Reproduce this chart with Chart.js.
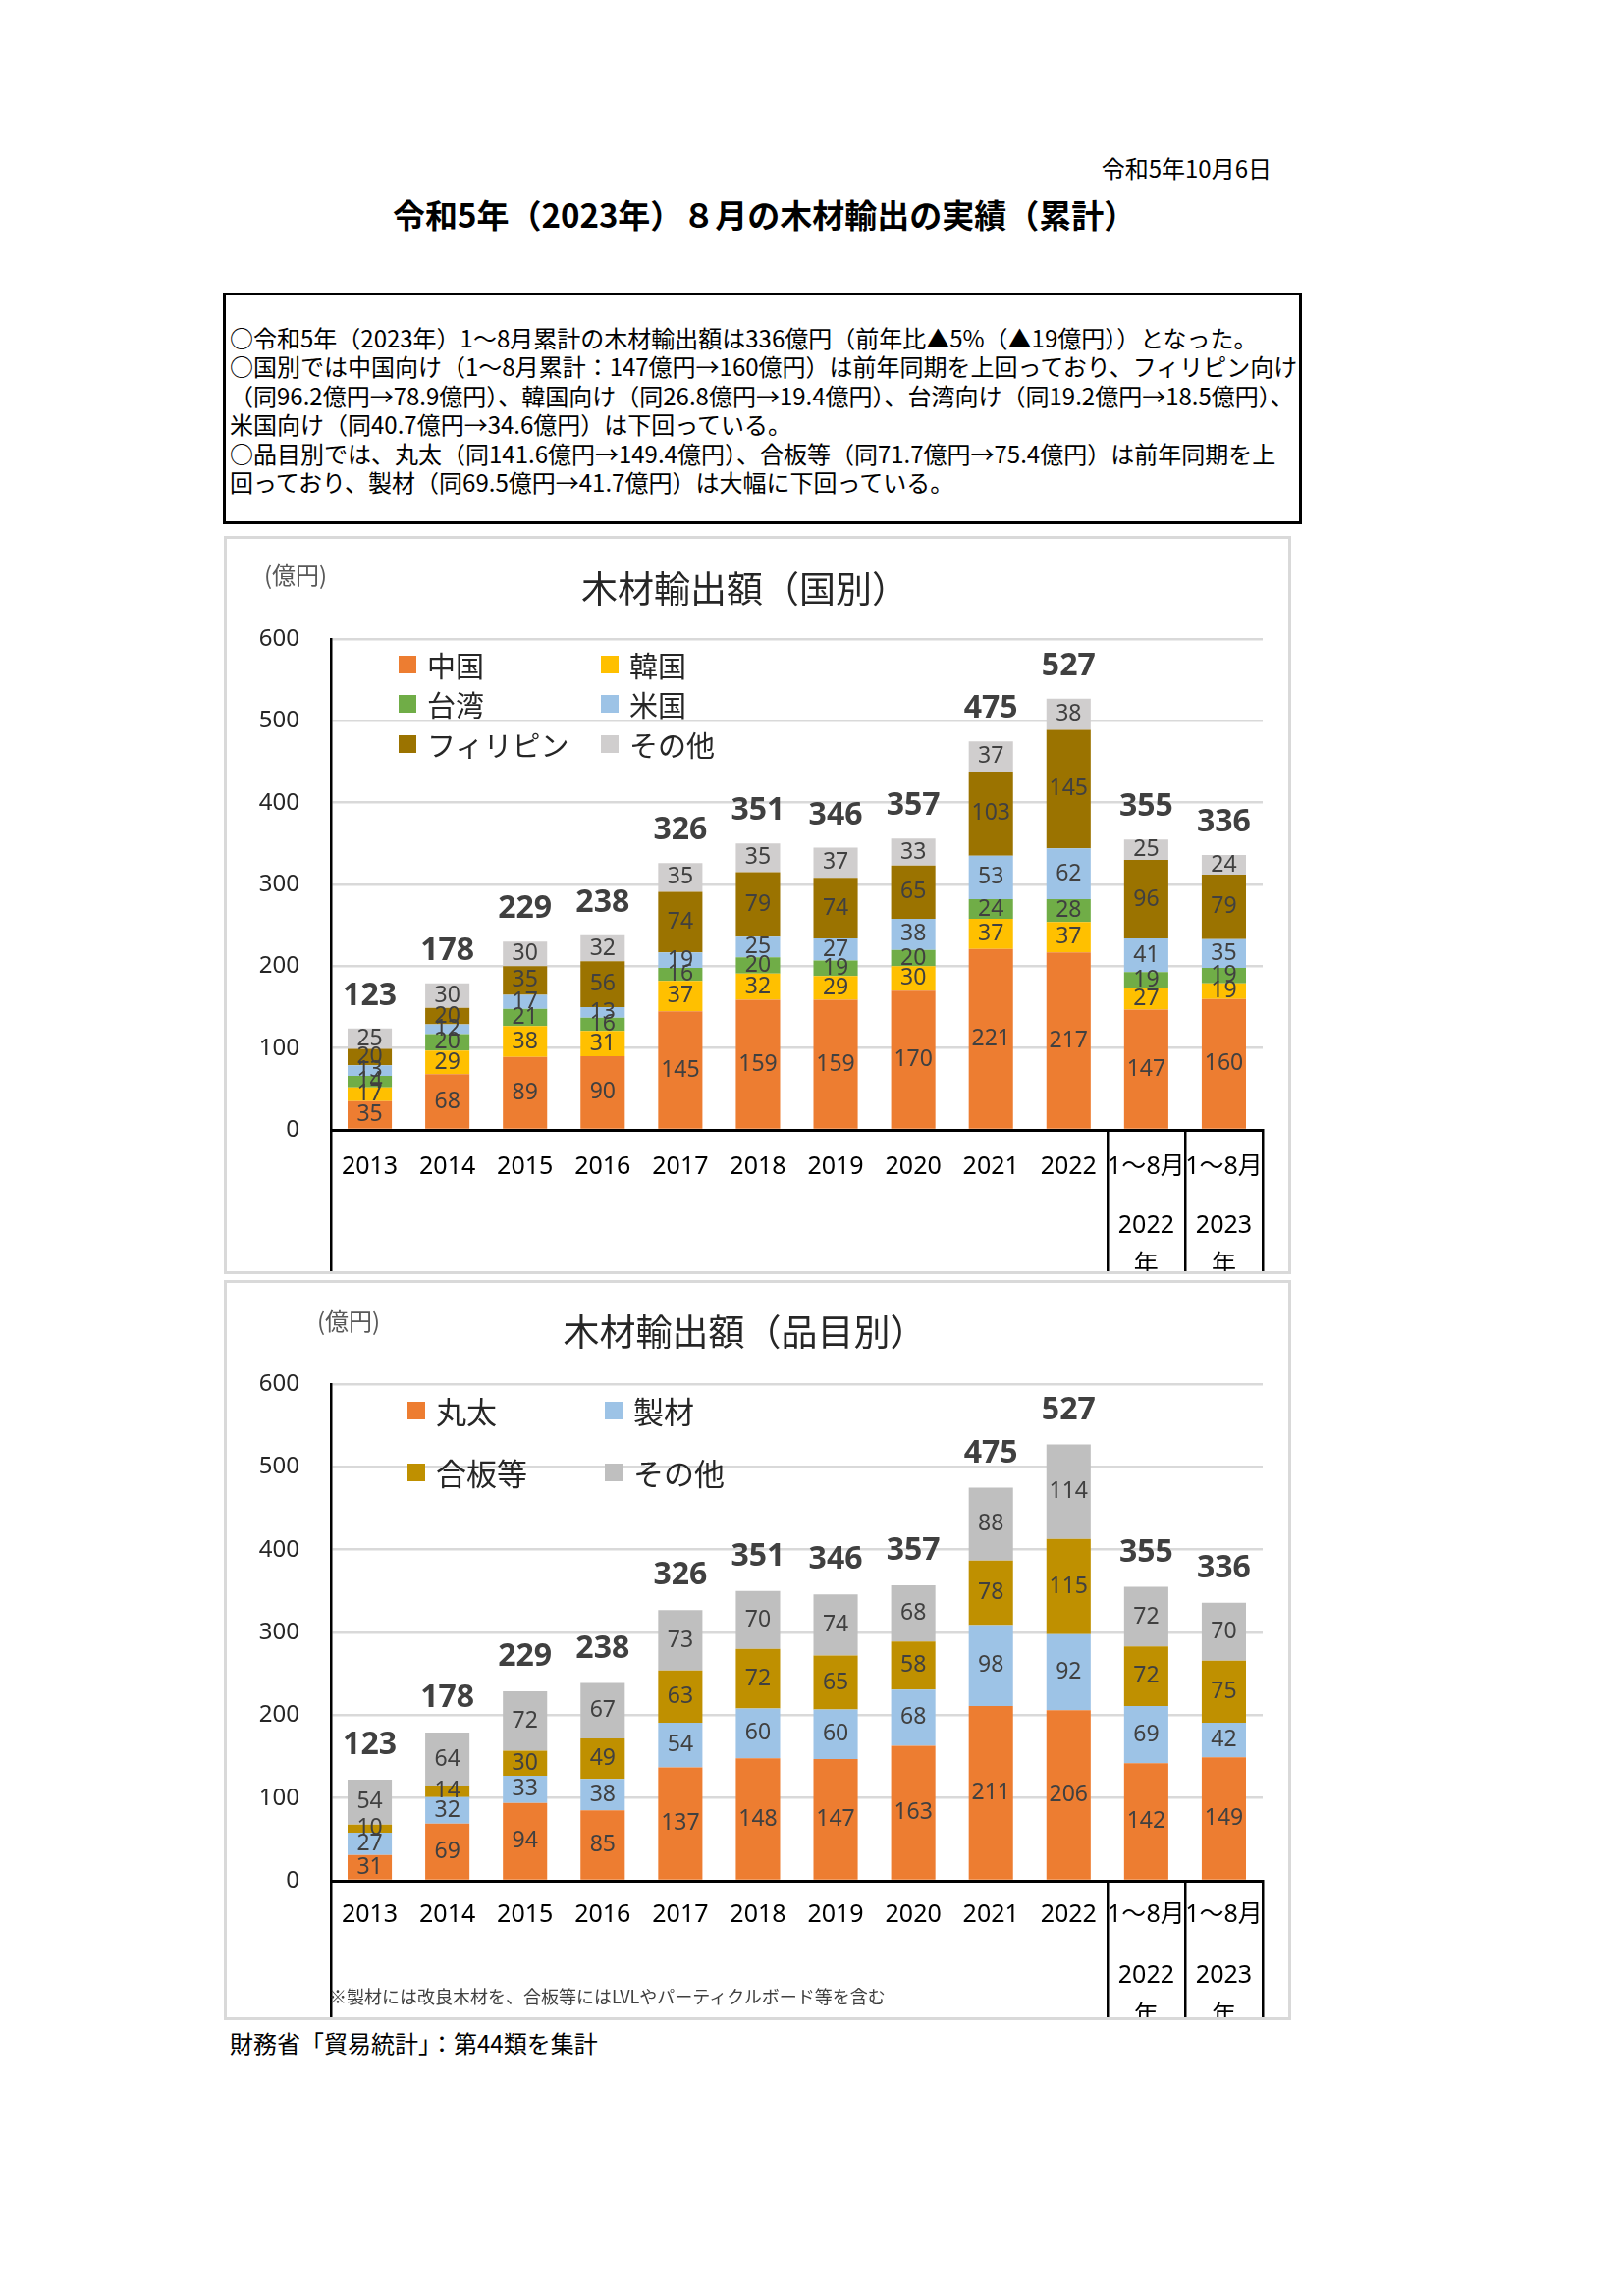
<!DOCTYPE html>
<html lang="ja">
<head>
<meta charset="utf-8">
<title>木材輸出の実績</title>
<script src="https://cdn.jsdelivr.net/npm/chart.js@4.4.0/dist/chart.umd.min.js"></script>
<style>
  body { margin: 0; width: 1654px; height: 2339px; position: relative; overflow: hidden; background: #fff;
         font-family: "Noto Sans CJK JP", "Noto Sans", sans-serif; color: #000; }
  .t { position: absolute; white-space: nowrap; line-height: 1.2; }
  .note { position: absolute; left: 227px; top: 298px; width: 1099px; height: 236px; box-sizing: border-box;
          border: 3px solid #000; padding: 28px 0 0 4px; font-size: 24px; line-height: 29.4px; }
  .note div { white-space: nowrap; }
  .box { position: absolute; left: 228px; width: 1087px; box-sizing: border-box; border: 3px solid #d9d9d9; overflow: hidden; }
  .box canvas { position: absolute; left: 0; top: 0; }
  .lg { position: absolute; display: flex; align-items: center; white-space: nowrap; line-height: 1.2; color: #262626; }
  .lg i { display: inline-block; width: 18px; height: 18px; margin-right: 11px; }
  .unit { position: absolute; font-size: 24px; color: #595959; line-height: 1.2; }
</style>
</head>
<body>

<div class="t" style="right:359px; top:157px; font-size:24px;">令和5年10月6日</div>
<div class="t" style="left:400px; top:199px; font-size:33px; font-weight:bold;">令和5年（2023年）８月の木材輸出の実績（累計）</div>

<div class="note">
  <div>○令和5年（2023年）1～8月累計の木材輸出額は336億円（前年比▲5%（▲19億円））となった。</div>
  <div>○国別では中国向け（1～8月累計：147億円→160億円）は前年同期を上回っており、フィリピン向け</div>
  <div>（同96.2億円→78.9億円）、韓国向け（同26.8億円→19.4億円）、台湾向け（同19.2億円→18.5億円）、</div>
  <div>米国向け（同40.7億円→34.6億円）は下回っている。</div>
  <div>○品目別では、丸太（同141.6億円→149.4億円）、合板等（同71.7億円→75.4億円）は前年同期を上</div>
  <div>回っており、製材（同69.5億円→41.7億円）は大幅に下回っている。</div>
</div>

<div class="box" id="box1" style="top:546px; height:752px;">
  <canvas id="chart1" width="1081" height="746" style="width:1081px;height:746px;"></canvas>
  <div class="unit" style="left:38px; top:22px;">(億円)</div>
</div>

<div class="box" id="box2" style="top:1304px; height:754px;">
  <canvas id="chart2" width="1081" height="748" style="width:1081px;height:748px;"></canvas>
  <div class="unit" style="left:92px; top:24px;">(億円)</div>
  <div class="unit" style="left:104px; top:716px; font-size:18px; color:#404040;">※製材には改良木材を、合板等にはLVLやパーティクルボード等を含む</div>
</div>

<div class="t" style="left:234px; top:2067px; font-size:24px;">財務省「貿易統計」：第44類を集計</div>

<script>
// 横軸（年）
const LABELS = ['2013', '2014', '2015', '2016', '2017', '2018', '2019', '2020', '2021', '2022',
  ['1～8月', '', '', '2022', '', '年'], ['1～8月', '', '', '2023', '', '年']];
const TOTALS = [123, 178, 229, 238, 326, 351, 346, 357, 475, 527, 355, 336];

// 国別（億円）
const CHINA       = [35, 68, 89, 90, 145, 159, 159, 170, 221, 217, 147, 160];
const KOREA       = [17, 29, 38, 31, 37, 32, 29, 30, 37, 37, 27, 19];
const TAIWAN      = [14, 20, 21, 16, 16, 20, 19, 20, 24, 28, 19, 19];
const USA         = [13, 12, 17, 13, 19, 25, 27, 38, 53, 62, 41, 35];
const PHILIPPINES = [20, 20, 35, 56, 74, 79, 74, 65, 103, 145, 96, 79];
const OTHER_C     = [25, 30, 30, 32, 35, 35, 37, 33, 37, 38, 25, 24];

// 品目別（億円）
const LOGS    = [31, 69, 94, 85, 137, 148, 147, 163, 211, 206, 142, 149];
const LUMBER  = [27, 32, 33, 38, 54, 60, 60, 68, 98, 92, 69, 42];
const PLYWOOD = [10, 14, 30, 49, 63, 72, 65, 58, 78, 115, 72, 75];
const OTHER_P = [54, 64, 72, 67, 73, 70, 74, 68, 88, 114, 72, 70];

const Y_TICKS = [0, 100, 200, 300, 400, 500, 600];

const NAMES_C = ['中国', '韓国', '台湾', '米国', 'フィリピン', 'その他'];
const COLORS_C = ['#ED7D31', '#FFC000', '#70AD47', '#9DC3E6', '#9B7300', '#D0CECE'];
const NAMES_P = ['丸太', '製材', '合板等', 'その他'];
const COLORS_P = ['#ED7D31', '#9DC3E6', '#BF9000', '#BFBFBF'];

Chart.defaults.font.family = '"Noto Sans", "Noto Sans CJK JP", sans-serif';

// 各区分の数値と合計を描く
const barLabels = {
  id: 'barLabels',
  afterDatasetsDraw(chart, args, opts) {
    const ctx = chart.ctx;
    ctx.save();
    ctx.textAlign = 'center';
    ctx.textBaseline = 'middle';
    ctx.fillStyle = '#404040';
    ctx.font = '23px "Noto Sans", sans-serif';
    chart.data.datasets.forEach((ds, i) => {
      chart.getDatasetMeta(i).data.forEach((bar, j) => {
        ctx.fillText(ds.data[j], bar.x, (bar.y + bar.base) / 2);
      });
    });
    const top = chart.getDatasetMeta(chart.data.datasets.length - 1);
    ctx.font = 'bold 32px "Noto Sans", sans-serif';
    top.data.forEach((bar, j) => {
      ctx.fillText(opts.totals[j], bar.x, bar.y - opts.gap);
    });
    ctx.restore();
  }
};

function makeChart(id, title, names, colors, series, o) {
  new Chart(document.getElementById(id), {
    type: 'bar',
    data: {
      labels: LABELS,
      datasets: series.map((s, i) => ({
        label: names[i],
        data: s,
        backgroundColor: colors[i],
        borderWidth: 0,
        categoryPercentage: 1,
        barPercentage: 0.57
      }))
    },
    options: {
      responsive: false,
      animation: false,
      layout: { padding: { left: 0, right: 26, top: 0, bottom: 0 } },
      plugins: {
        legend: { display: false },
        tooltip: { enabled: false },
        title: {
          display: true,
          text: title,
          color: '#262626',
          font: { size: o.titleSize, weight: 'normal', family: '"Noto Sans CJK JP", sans-serif', lineHeight: 1.2 },
          padding: { top: o.titleTop, bottom: o.titleBottom }
        },
        barLabels: { totals: TOTALS, gap: o.gap }
      },
      scales: {
        x: {
          stacked: true,
          grid: {
            drawOnChartArea: false,
            tickLength: 170,
            lineWidth: 2.5,
            color: c => (c.index === undefined || c.index === 0 || c.index >= 10) ? '#000' : 'rgba(0,0,0,0)'
          },
          border: { color: '#000', width: 3, z: 1 },
          ticks: {
            autoSkip: false,
            maxRotation: 0,
            color: '#000',
            padding: o.tickPad,
            font: { size: 25, lineHeight: o.lineH }
          },
          afterFit(s) { s.height = o.xHeight; }
        },
        y: {
          stacked: true,
          min: Y_TICKS[0],
          max: Y_TICKS[Y_TICKS.length - 1],
          afterBuildTicks(s) { s.ticks = Y_TICKS.map(v => ({ value: v })); },
          grid: { color: '#d9d9d9', lineWidth: 2.5, drawTicks: false },
          border: { color: '#000', width: 2.5 },
          ticks: { color: '#262626', padding: 32, font: { size: 24 } },
          afterFit(s) { s.width = 106; }
        }
      }
    },
    plugins: [barLabels]
  });
}

function addLegend(boxId, names, colors, xs, ys, size) {
  const box = document.getElementById(boxId);
  names.forEach((n, i) => {
    const d = document.createElement('div');
    d.className = 'lg';
    d.style.left = xs[i % 2] + 'px';
    d.style.top = (ys[Math.floor(i / 2)] - size * 0.6) + 'px';
    d.style.fontSize = size + 'px';
    d.innerHTML = '<i style="background:' + colors[i] + '"></i>' + n;
    box.appendChild(d);
  });
}

makeChart('chart1', '木材輸出額（国別）', NAMES_C, COLORS_C,
  [CHINA, KOREA, TAIWAN, USA, PHILIPPINES, OTHER_C],
  { titleSize: 37, titleTop: 28.8, titleBottom: 28.8, gap: 33, tickPad: -142, lineH: 0.8, xHeight: 144 });

makeChart('chart2', '木材輸出額（品目別）', NAMES_P, COLORS_P,
  [LOGS, LUMBER, PLYWOOD, OTHER_P],
  { titleSize: 37, titleTop: 27.8, titleBottom: 30.8, gap: 35, tickPad: -145, lineH: 0.82, xHeight: 139 });

addLegend('box1', NAMES_C, COLORS_C, [175, 381], [128, 168, 209], 29);
addLegend('box2', NAMES_P, COLORS_P, [184, 385], [130, 193], 31);
</script>
</body>
</html>
